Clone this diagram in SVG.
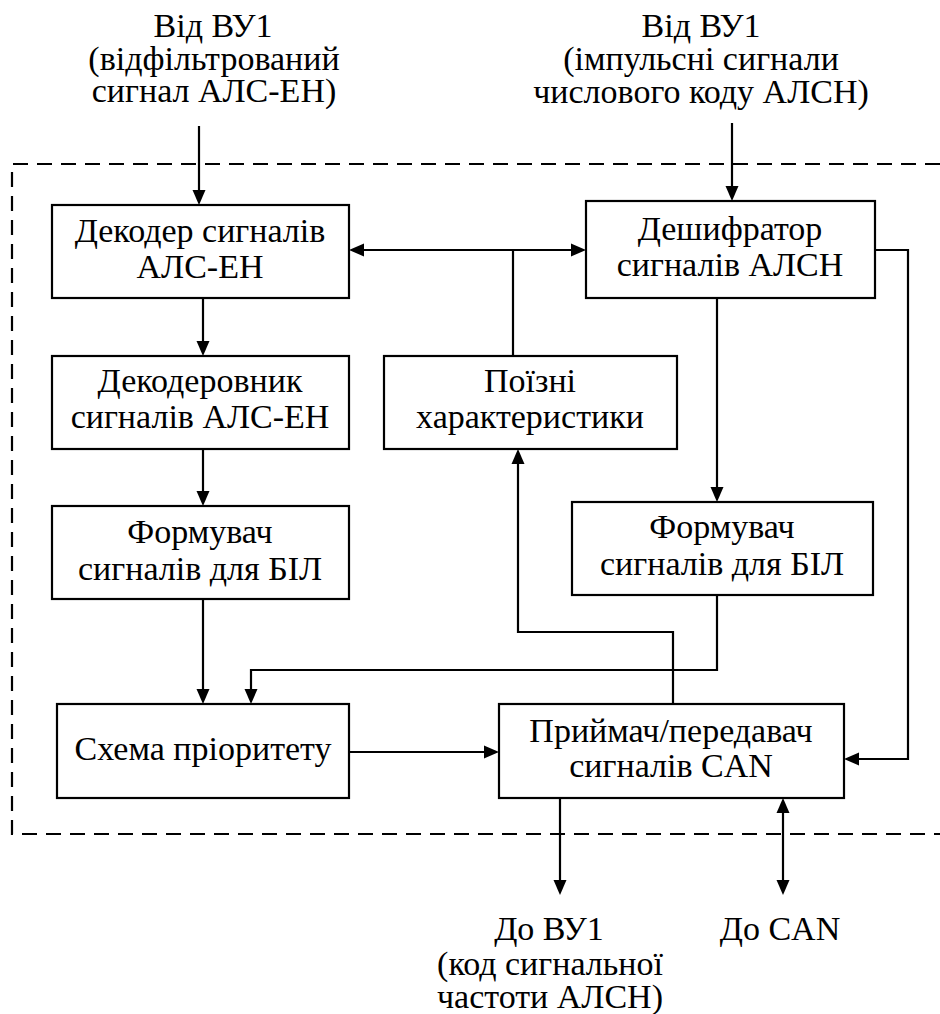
<svg xmlns="http://www.w3.org/2000/svg" width="940" height="1014" viewBox="0 0 940 1014">
<rect width="940" height="1014" fill="#fff"/>
<path d="M940,164 H12 V834 H940" fill="none" stroke="#000" stroke-width="2.2" stroke-dasharray="15 9"/>
<g id="connectors">
<g fill="none" stroke="#000" stroke-width="2.2">
<path d="M199,126 V200"/>
<path d="M203,298 V351"/>
<path d="M203,449 V501"/>
<path d="M203,599 V699"/>
<path d="M354,250 H581"/>
<path d="M513,250 V356"/>
<path d="M732,123 V196"/>
<path d="M717,298 V497"/>
<path d="M875,250 H908 V759 H849"/>
<path d="M717,595 V670 H251 V699"/>
<path d="M673,704 V632 H518 V454"/>
<path d="M349,752 H494"/>
<path d="M560,798 V890"/>
<path d="M783,803 V890"/>
</g>
<g fill="#000">
<polygon points="192.5,190 199,205 205.5,190"/>
<polygon points="196.5,341 203,356 209.5,341"/>
<polygon points="196.5,491 203,506 209.5,491"/>
<polygon points="196.5,689 203,704 209.5,689"/>
<polygon points="364,243.5 349,250 364,256.5"/>
<polygon points="571,243.5 586,250 571,256.5"/>
<polygon points="725.5,186 732,201 738.5,186"/>
<polygon points="710.5,487 717,502 723.5,487"/>
<polygon points="859,752.5 844,759 859,765.5"/>
<polygon points="244.5,689 251,704 257.5,689"/>
<polygon points="511.5,464 518,449 524.5,464"/>
<polygon points="484,745.5 499,752 484,758.5"/>
<polygon points="553.5,880 560,895 566.5,880"/>
<polygon points="776.5,880 783,895 789.5,880"/>
<polygon points="776.5,813 783,798 789.5,813"/>
</g>
</g>
<g id="in-left">
<text x="213" y="37" font-family="Liberation Serif" font-size="34" text-anchor="middle">Від ВУ1</text>
<text x="214" y="70" font-family="Liberation Serif" font-size="34" text-anchor="middle">(відфільтрований</text>
<text x="214" y="102" font-family="Liberation Serif" font-size="34" text-anchor="middle">сигнал АЛС-ЕН)</text>
</g>
<g id="in-right">
<text x="701" y="37" font-family="Liberation Serif" font-size="34" text-anchor="middle">Від ВУ1</text>
<text x="701" y="70" font-family="Liberation Serif" font-size="34" text-anchor="middle">(імпульсні сигнали</text>
<text x="701" y="103" font-family="Liberation Serif" font-size="34" text-anchor="middle">числового коду АЛСН)</text>
</g>
<g id="decoder">
<rect x="52" y="205" width="297" height="93" fill="#fff" stroke="#000" stroke-width="2.2"/>
<text x="200" y="242" font-family="Liberation Serif" font-size="34" text-anchor="middle">Декодер сигналів</text>
<text x="200" y="278" font-family="Liberation Serif" font-size="34" text-anchor="middle">АЛС-ЕН</text>
</g>
<g id="decoderovnyk">
<rect x="52" y="356" width="297" height="93" fill="#fff" stroke="#000" stroke-width="2.2"/>
<text x="200" y="392" font-family="Liberation Serif" font-size="34" text-anchor="middle">Декодеровник</text>
<text x="200" y="428" font-family="Liberation Serif" font-size="34" text-anchor="middle">сигналів АЛС-ЕН</text>
</g>
<g id="formuvach-left">
<rect x="52" y="506" width="297" height="93" fill="#fff" stroke="#000" stroke-width="2.2"/>
<text x="200" y="543" font-family="Liberation Serif" font-size="34" text-anchor="middle">Формувач</text>
<text x="200" y="580" font-family="Liberation Serif" font-size="34" text-anchor="middle">сигналів для БІЛ</text>
</g>
<g id="priority">
<rect x="57" y="704" width="292" height="94" fill="#fff" stroke="#000" stroke-width="2.2"/>
<text x="203" y="760" font-family="Liberation Serif" font-size="34" text-anchor="middle">Схема пріоритету</text>
</g>
<g id="poizni">
<rect x="384" y="356" width="293" height="93" fill="#fff" stroke="#000" stroke-width="2.2"/>
<text x="530" y="392" font-family="Liberation Serif" font-size="34" text-anchor="middle">Поїзні</text>
<text x="530" y="428" font-family="Liberation Serif" font-size="34" text-anchor="middle">характеристики</text>
</g>
<g id="deshyfrator">
<rect x="586" y="201" width="289" height="97" fill="#fff" stroke="#000" stroke-width="2.2"/>
<text x="730" y="240" font-family="Liberation Serif" font-size="34" text-anchor="middle">Дешифратор</text>
<text x="730" y="276" font-family="Liberation Serif" font-size="34" text-anchor="middle">сигналів АЛСН</text>
</g>
<g id="formuvach-right">
<rect x="572" y="502" width="301" height="93" fill="#fff" stroke="#000" stroke-width="2.2"/>
<text x="722" y="538" font-family="Liberation Serif" font-size="34" text-anchor="middle">Формувач</text>
<text x="722" y="575" font-family="Liberation Serif" font-size="34" text-anchor="middle">сигналів для БІЛ</text>
</g>
<g id="can">
<rect x="499" y="704" width="345" height="94" fill="#fff" stroke="#000" stroke-width="2.2"/>
<text x="671" y="742" font-family="Liberation Serif" font-size="34" text-anchor="middle">Приймач/передавач</text>
<text x="671" y="777" font-family="Liberation Serif" font-size="34" text-anchor="middle">сигналів CAN</text>
</g>
<g id="out-vu1">
<text x="549" y="940" font-family="Liberation Serif" font-size="34" text-anchor="middle">До ВУ1</text>
<text x="550" y="975" font-family="Liberation Serif" font-size="34" text-anchor="middle">(код сигнальної</text>
<text x="550" y="1008" font-family="Liberation Serif" font-size="34" text-anchor="middle">частоти АЛСН)</text>
</g>
<g id="out-can">
<text x="780" y="940" font-family="Liberation Serif" font-size="34" text-anchor="middle">До CAN</text>
</g>
</svg>
